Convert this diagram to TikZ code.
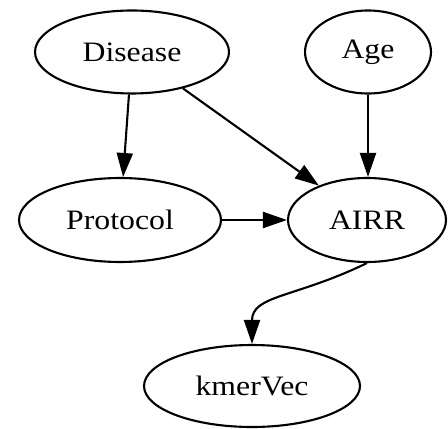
\documentclass[tikz,border=0pt]{standalone}
\usepackage{fontspec}
\setmainfont[FakeStretch=1.13]{Liberation Serif}
\usetikzlibrary{arrows.meta,shapes.geometric}
\begin{document}
\begin{tikzpicture}[x=0.02cm, y=-0.02cm,
	var/.style={draw, ellipse, line width=1.2pt, inner sep=0pt, font=\fontsize{16}{19}\selectfont},
	fleche/.style={-{Triangle[length=0.48cm, width=0.32cm]}, line width=1.2pt}]
	\useasboundingbox (0,0) rectangle (448,428);
	% les variables
	\node[var, minimum width=3.88cm, minimum height=1.66cm] (disease) at (132,52) {Disease};
	\node[var, minimum width=2.52cm, minimum height=1.66cm] (age) at (368,52) {Age};
	\node[var, minimum width=4.04cm, minimum height=1.68cm] (protocol) at (120,220) {Protocol};
	\node[var, minimum width=3.16cm, minimum height=1.68cm] (airr) at (367,220) {AIRR};
	\node[var, minimum width=4.32cm, minimum height=1.64cm] (kmervec) at (252,386) {kmerVec};
	% les liens
	\draw[fleche] (disease) -- (protocol);
	\draw[fleche] (disease) -- (airr);
	\draw[fleche] (age) -- (age |- airr.north);
	\draw[fleche] (protocol) -- (airr);
	\draw[fleche] (airr.south) .. controls (295,298) and (252,295) .. (kmervec.north);
\end{tikzpicture}
\end{document}
